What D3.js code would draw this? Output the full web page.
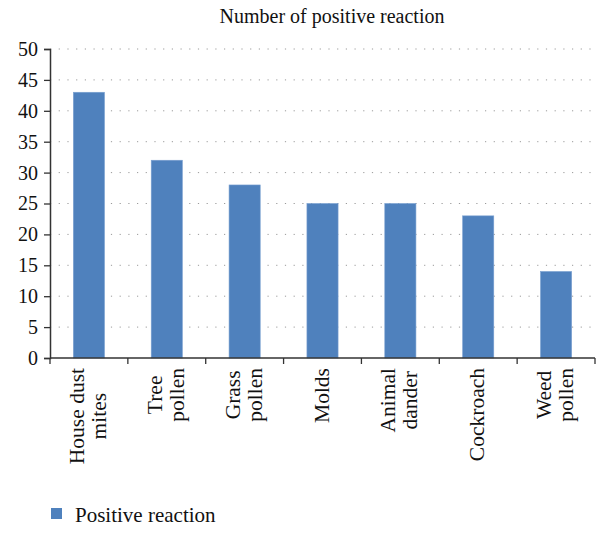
<!DOCTYPE html>
<html><head><meta charset="utf-8">
<script src="https://cdn.jsdelivr.net/npm/d3@7"></script>
<style>body{margin:0;background:#fff}svg{display:block}</style>
</head><body>
<script>
const categories = [["House dust","mites"],["Tree","pollen"],["Grass","pollen"],["Molds"],["Animal","dander"],["Cockroach"],["Weed","pollen"]];
const values = [43, 32, 28, 25, 25, 23, 14];
const yTicks = [0,5,10,15,20,25,30,35,40,45,50];
const title = "Number of positive reaction";
const seriesName = "Positive reaction";

const W = 610, H = 535;
const font = "'Liberation Serif', 'Times New Roman', serif";
const svg = d3.select("body").append("svg").attr("width", W).attr("height", H);

const x = d3.scaleBand().domain(d3.range(categories.length)).range([50, 595]).paddingInner(0.6).paddingOuter(0.3);
const y = d3.scaleLinear().domain([0, 50]).range([358, 49]);

// grid
svg.append("g").selectAll("line").data(yTicks.filter(d => d > 0)).join("line")
  .attr("x1", 50).attr("x2", 595).attr("y1", d => y(d)).attr("y2", d => y(d))
  .attr("stroke", "#9a9a9a").attr("stroke-width", 1).attr("stroke-dasharray", "1.2,7.5");

// bars
svg.append("g").selectAll("rect").data(values).join("rect")
  .attr("x", (d, i) => x(i)).attr("width", x.bandwidth())
  .attr("y", d => y(d)).attr("height", d => y(0) - y(d))
  .attr("fill", "#4F81BD").attr("stroke", "#7aa0d0").attr("stroke-width", 0.6);

// y axis
const ya = svg.append("g").attr("transform", "translate(50,0)")
  .call(d3.axisLeft(y).tickValues(yTicks).tickSize(6).tickPadding(6))
  .attr("font-family", font).attr("font-size", 20);
ya.select(".domain").attr("stroke", "#333").attr("stroke-width", 1.5);
ya.selectAll(".tick line").attr("stroke", "#333").attr("stroke-width", 1.3);
ya.selectAll("text").style("font-family", font).style("font-size", "20px").attr("fill", "#111");

// x axis
const xa = svg.append("g").attr("transform", "translate(0,358)");
xa.append("line").attr("x1", 50).attr("x2", 595).attr("stroke", "#333").attr("stroke-width", 1.5);
const step = x.step();
const bounds = d3.range(categories.length + 1).map(i => 50 + i * step);
xa.selectAll("line.tk").data(bounds).join("line").attr("class", "tk")
  .attr("x1", d => d).attr("x2", d => d).attr("y1", 0).attr("y2", 6)
  .attr("stroke", "#333").attr("stroke-width", 1.3);

// category labels
const lineH = 22;
categories.forEach((lines, i) => {
  const cx = x(i) + x.bandwidth() / 2;
  const g = svg.append("g");
  const texts = lines.map((t, k) => {
    const bx = cx + 6 + (k - (lines.length - 1) / 2) * lineH;
    return g.append("text").text(t)
      .style("font-family", font).style("font-size", "21.5px").attr("fill", "#111")
      .attr("text-anchor", "middle")
      .attr("data-bx", bx);
  });
  const maxLen = d3.max(texts, t => t.node().getComputedTextLength());
  const cy = 368 + maxLen / 2;
  texts.forEach(t => {
    const bx = +t.attr("data-bx");
    t.attr("transform", `translate(${bx},${cy}) rotate(-90)`);
  });
});

// title
svg.append("text").attr("x", 332).attr("y", 23).attr("text-anchor", "middle")
  .style("font-family", font).style("font-size", "20px").attr("fill", "#111").text(title);

// legend
svg.append("rect").attr("x", 51).attr("y", 508).attr("width", 11).attr("height", 11).attr("fill", "#4F81BD");
svg.append("text").attr("x", 75).attr("y", 522).style("font-family", font).style("font-size", "21px")
  .attr("fill", "#111").text(seriesName);
</script>
</body></html>
